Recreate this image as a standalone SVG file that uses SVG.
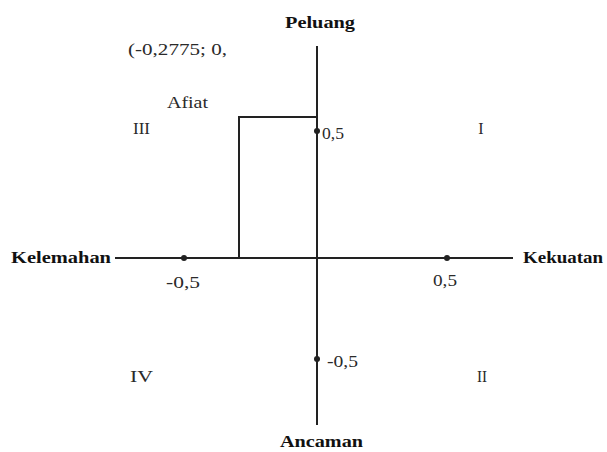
<svg xmlns="http://www.w3.org/2000/svg" width="607" height="452" viewBox="0 0 607 452">
<style>
.t{font-family:"Liberation Serif","Times New Roman",serif;font-size:16px;fill:#2a2a2a}
.b{font-family:"Liberation Serif","Times New Roman",serif;font-size:17px;font-weight:bold;fill:#111}
.ln{stroke:#222;stroke-width:2;fill:none}
.dot{fill:#222}
</style>
<rect width="607" height="452" fill="#fff"/>
<g id="connectors">
<line class="ln" x1="317" y1="46" x2="317" y2="425"/>
<line class="ln" x1="115" y1="258" x2="513" y2="258"/>
<path class="ln" d="M239,258 V117 H317"/>
</g>
<g id="dots">
<circle class="dot" cx="317" cy="131" r="3"/>
<circle class="dot" cx="317" cy="359" r="3"/>
<circle class="dot" cx="184" cy="258" r="3"/>
<circle class="dot" cx="447" cy="258" r="3"/>
</g>
<g id="peluang"><text class="b" x="285" y="28" textLength="70" lengthAdjust="spacingAndGlyphs">Peluang</text></g>
<g id="ancaman"><text class="b" x="280" y="447" textLength="83" lengthAdjust="spacingAndGlyphs">Ancaman</text></g>
<g id="kelemahan"><text class="b" x="11" y="263" textLength="100" lengthAdjust="spacingAndGlyphs">Kelemahan</text></g>
<g id="kekuatan"><text class="b" x="523" y="263" textLength="80" lengthAdjust="spacingAndGlyphs">Kekuatan</text></g>
<g id="labels">
<text class="t" x="128" y="55" textLength="99" lengthAdjust="spacingAndGlyphs">(-0,2775; 0,</text>
<text class="t" x="167" y="108" textLength="41" lengthAdjust="spacingAndGlyphs">Afiat</text>
<text class="t" x="133" y="134" textLength="17" lengthAdjust="spacingAndGlyphs">III</text>
<text class="t" x="481" y="134" text-anchor="middle">I</text>
<text class="t" x="130" y="382" textLength="23" lengthAdjust="spacingAndGlyphs">IV</text>
<text class="t" x="477" y="382" textLength="10" lengthAdjust="spacingAndGlyphs">II</text>
<text class="t" x="322" y="139" textLength="22" lengthAdjust="spacingAndGlyphs">0,5</text>
<text class="t" x="327" y="367" textLength="31" lengthAdjust="spacingAndGlyphs">-0,5</text>
<text class="t" x="166" y="288" textLength="34" lengthAdjust="spacingAndGlyphs">-0,5</text>
<text class="t" x="433" y="286" textLength="24" lengthAdjust="spacingAndGlyphs">0,5</text>
</g>
</svg>
